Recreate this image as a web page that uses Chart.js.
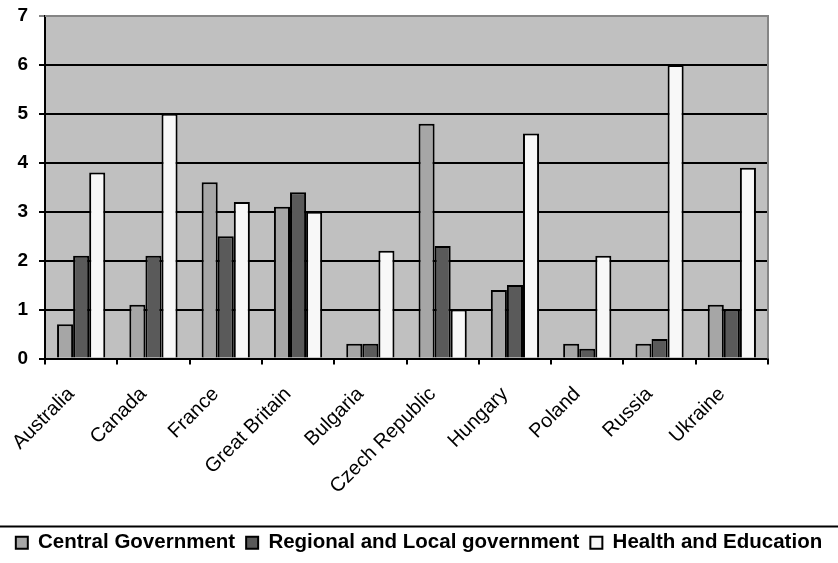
<!DOCTYPE html>
<html>
<head>
<meta charset="utf-8">
<script src="https://cdn.jsdelivr.net/npm/chart.js@4"></script>
<style>
  html, body { margin: 0; padding: 0; background: #fff; }
  #wrap { width: 838px; height: 563px; }
</style>
</head>
<body>
<div id="wrap"><canvas id="chart-1" width="838" height="563"></canvas></div>
<script>
const countries = [
  "Australia", "Canada", "France", "Great Britain", "Bulgaria",
  "Czech Republic", "Hungary", "Poland", "Russia", "Ukraine"
];
const centralGov = [0.7, 1.1, 3.6, 3.1, 0.3, 4.8, 1.4, 0.3, 0.3, 1.1];
const regionalGov = [2.1, 2.1, 2.5, 3.4, 0.3, 2.3, 1.5, 0.2, 0.4, 1.0];
const healthEdu = [3.8, 5.0, 3.2, 3.0, 2.2, 1.0, 4.6, 2.1, 6.0, 3.9];
const yTicks = [0, 1, 2, 3, 4, 5, 6, 7];

// plot background, gray frame and line above legend
const decor = {
  id: "decor",
  beforeDraw(chart) {
    const { ctx, chartArea: a } = chart;
    ctx.save();
    ctx.fillStyle = "#c0c0c0";
    ctx.fillRect(a.left, a.top, a.right - a.left, a.bottom - a.top);
    ctx.restore();
  },
  beforeDatasetsDraw(chart) {
    const { ctx, chartArea: a } = chart;
    ctx.save();
    ctx.strokeStyle = "#858585";
    ctx.lineWidth = 2;
    ctx.beginPath();
    ctx.moveTo(a.left, a.top);
    ctx.lineTo(a.right, a.top);
    ctx.lineTo(a.right, a.bottom);
    ctx.stroke();
    ctx.restore();
  },
  afterDraw(chart) {
    const { ctx } = chart;
    const y = chart.legend.top + 5;
    ctx.save();
    ctx.strokeStyle = "#000";
    ctx.lineWidth = 2;
    ctx.beginPath();
    ctx.moveTo(0, y);
    ctx.lineTo(chart.width, y);
    ctx.stroke();
    ctx.restore();
  }
};

const ctx1 = document.getElementById("chart-1").getContext("2d");
const myChart1 = new Chart(ctx1, {
  type: "bar",
  data: {
    labels: countries,
    datasets: [
      {
        label: "Central Government",
        data: centralGov,
        backgroundColor: "#a6a6a6",
        borderColor: "#000",
        borderWidth: 2,
      },
      {
        label: "Regional and Local government",
        data: regionalGov,
        backgroundColor: "#5a5a5a",
        borderColor: "#000",
        borderWidth: 2,
      },
      {
        label: "Health and Education",
        data: healthEdu,
        backgroundColor: "#f8f8f8",
        borderColor: "#000",
        borderWidth: 2,
      },
    ],
  },
  options: {
    responsive: false,
    animation: false,
    categoryPercentage: 0.667,
    barPercentage: 1.0,
    layout: { padding: { left: 0, right: 0, top: 16, bottom: 0 } },
    scales: {
      x: {
        afterFit(axis) { axis.height = 163; },
        grid: {
          offset: true,
          drawOnChartArea: false,
          drawTicks: true,
          tickLength: 6,
          color: "#000",
          lineWidth: 2,
        },
        border: { color: "#000", width: 2 },
        ticks: {
          color: "#000",
          maxRotation: 45,
          minRotation: 45,
          labelOffset: -10,
          padding: 18,
          font: { family: "Liberation Sans", size: 20 },
        },
      },
      y: {
        min: 0,
        max: 7,
        afterFit(axis) {
          axis.width = 45;
          axis.paddingTop = 0;
          axis.paddingBottom = 0;
        },
        afterBuildTicks(axis) {
          axis.ticks = yTicks.map(v => ({ value: v }));
        },
        grid: {
          color: c => (c.tick && c.tick.value === 7 ? "#858585" : "#000"),
          lineWidth: 2,
          tickLength: 6,
        },
        border: { color: "#000", width: 2 },
        ticks: {
          color: "#000",
          padding: 11,
          font: { family: "Liberation Sans", size: 19, weight: "bold" },
        },
      },
      // empty right-hand axis that only reserves the white margin
      yRight: {
        position: "right",
        min: 0,
        max: 7,
        afterFit(axis) {
          axis.width = 70;
          axis.paddingTop = 0;
          axis.paddingBottom = 0;
        },
        grid: { display: false },
        border: { display: false },
        ticks: { display: false },
      },
    },
    plugins: {
      legend: {
        position: "bottom",
        labels: {
          color: "#000",
          boxWidth: 12,
          boxHeight: 12,
          padding: 11,
          font: { family: "Liberation Sans", size: 20.5, weight: "bold" },
        },
      },
      tooltip: { enabled: false },
    },
  },
  plugins: [decor],
});
</script>
</body>
</html>
